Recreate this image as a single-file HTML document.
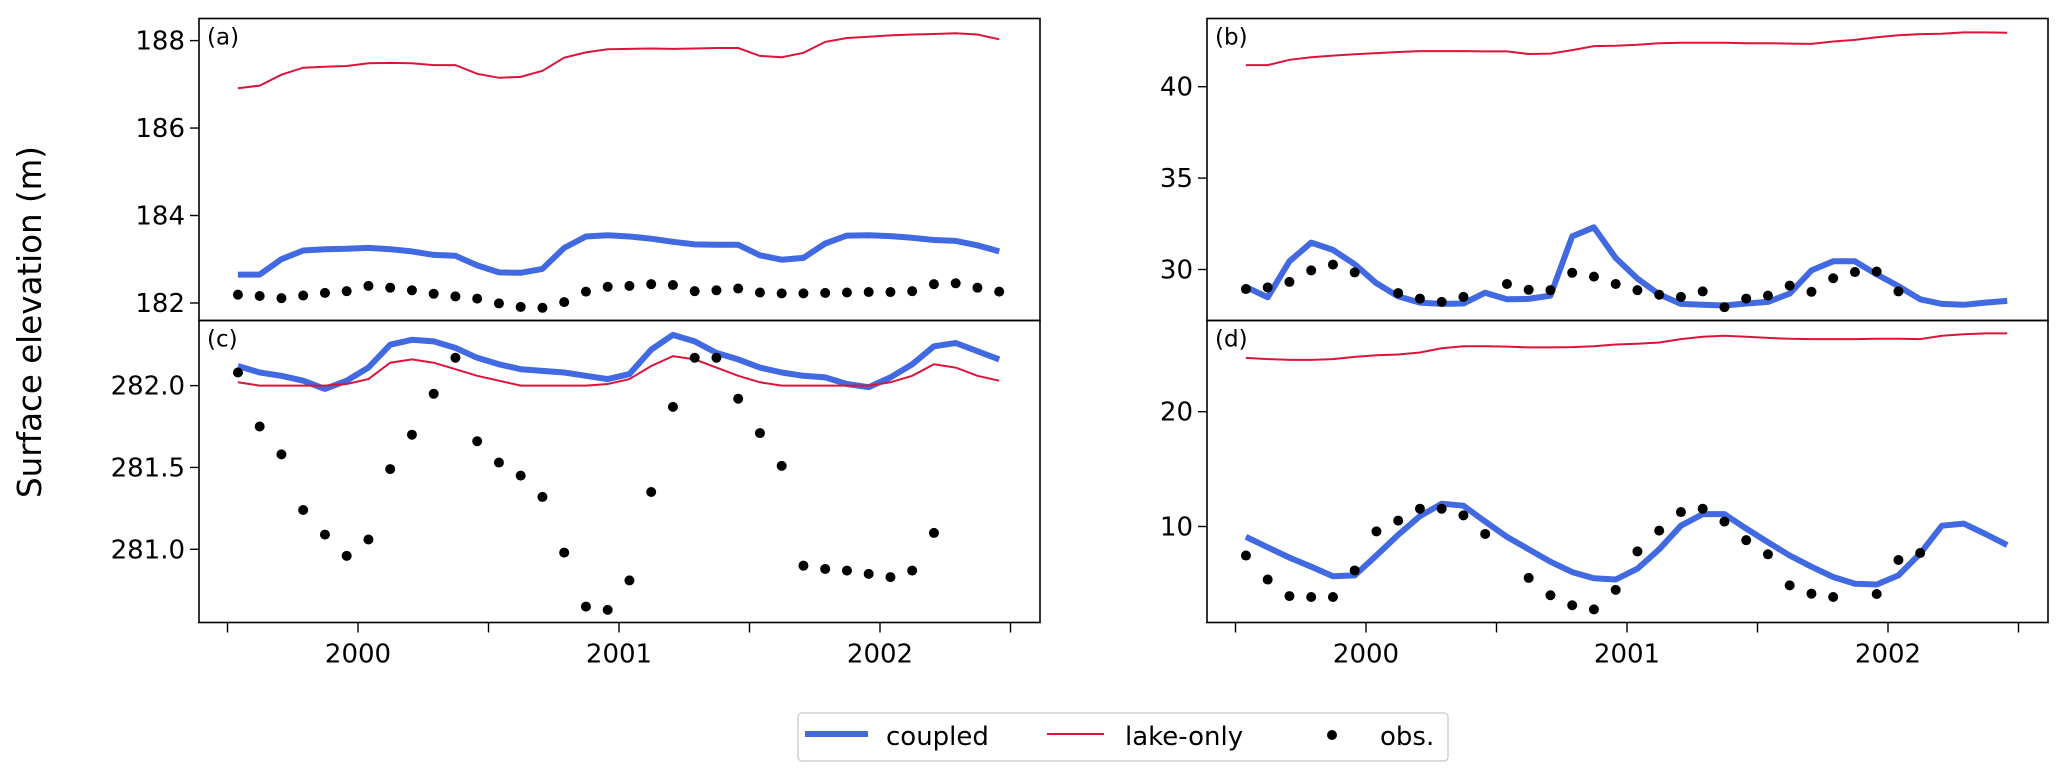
<!DOCTYPE html>
<html><head><meta charset="utf-8"><style>
body{margin:0;background:#fff;}
svg{display:block;font-family:"DejaVu Sans","Liberation Sans",sans-serif;}
</style></head><body>
<svg id="fig" width="2067" height="780" viewBox="0 0 2067 780"></svg>
<script>
const months = Array.from({length:36},(_,i)=>1999.54+i/12);
const yearTicks = [1999.5,2000,2000.5,2001,2001.5,2002,2002.5];
const yearLabels = ["","2000","","2001","","2002",""];

const aCoupled=[182.65,182.65,183.00,183.20,183.23,183.24,183.26,183.23,183.18,183.10,183.08,182.86,182.70,182.69,182.78,183.26,183.52,183.55,183.52,183.47,183.40,183.34,183.33,183.33,183.09,182.99,183.03,183.36,183.54,183.55,183.53,183.49,183.44,183.42,183.32,183.18];
const aLake=[186.91,186.97,187.22,187.38,187.40,187.42,187.48,187.49,187.48,187.44,187.44,187.24,187.15,187.17,187.31,187.61,187.73,187.80,187.81,187.82,187.81,187.82,187.83,187.83,187.65,187.62,187.72,187.97,188.06,188.09,188.12,188.14,188.15,188.17,188.14,188.03];
const aObs=[182.19,182.16,182.11,182.17,182.23,182.27,182.39,182.35,182.29,182.21,182.15,182.10,181.99,181.91,181.89,182.02,182.26,182.37,182.39,182.43,182.41,182.27,182.29,182.33,182.24,182.22,182.22,182.23,182.24,182.25,182.25,182.27,182.43,182.45,182.35,182.26];
const aTicks=[182,184,186,188];

const cCoupled=[282.12,282.08,282.06,282.03,281.98,282.03,282.11,282.25,282.28,282.27,282.23,282.17,282.13,282.10,282.09,282.08,282.06,282.04,282.07,282.22,282.31,282.27,282.20,282.16,282.11,282.08,282.06,282.05,282.01,281.99,282.05,282.13,282.24,282.26,282.21,282.16];
const cLake=[282.02,282,282,282,282,282.01,282.04,282.14,282.16,282.14,282.10,282.06,282.03,282,282,282,282,282.01,282.04,282.12,282.18,282.16,282.11,282.06,282.02,282,282,282,282,282,282.02,282.06,282.13,282.11,282.06,282.03];
const cObs=[282.08,281.75,281.58,281.24,281.09,280.96,281.06,281.49,281.70,281.95,282.17,281.66,281.53,281.45,281.32,280.98,280.65,280.63,280.81,281.35,281.87,282.17,282.17,281.92,281.71,281.51,280.90,280.88,280.87,280.85,280.83,280.87,281.10,null,null,null];
const cTicks=[281.0,281.5,282.0];
const cTickLabels=["281.0","281.5","282.0"];

const bCoupled=[29.05,28.48,30.45,31.47,31.07,30.29,29.25,28.53,28.19,28.12,28.14,28.73,28.37,28.39,28.57,31.81,32.31,30.63,29.50,28.64,28.12,28.07,28.03,28.14,28.23,28.68,29.95,30.45,30.45,29.73,29.09,28.37,28.12,28.07,28.19,28.28];
const bLake=[41.18,41.18,41.47,41.61,41.70,41.77,41.84,41.90,41.95,41.95,41.95,41.93,41.93,41.79,41.81,42.00,42.22,42.24,42.29,42.38,42.40,42.40,42.40,42.38,42.38,42.36,42.34,42.47,42.56,42.70,42.81,42.88,42.90,42.97,42.97,42.95];
const bObs=[28.93,29.02,29.32,29.95,30.27,29.84,null,28.71,28.41,28.23,28.50,null,29.21,28.89,28.87,29.82,29.61,29.21,28.87,28.62,28.50,28.80,27.94,28.41,28.57,29.12,28.78,29.52,29.86,29.89,28.80,null,null,null,null,null];
const bTicks=[30,35,40];

const dCoupled=[9.10,8.19,7.29,6.50,5.67,5.74,7.47,9.28,10.90,11.99,11.81,10.43,9.10,8.01,6.93,6.03,5.49,5.38,6.32,8.01,10.07,11.08,11.08,9.82,8.63,7.47,6.50,5.60,5.02,4.95,5.74,7.65,10.07,10.25,9.35,8.38];
const dLake=[24.69,24.58,24.51,24.51,24.58,24.77,24.91,24.98,25.16,25.52,25.70,25.70,25.67,25.60,25.60,25.63,25.70,25.85,25.92,26.03,26.32,26.53,26.61,26.53,26.43,26.35,26.32,26.32,26.32,26.35,26.35,26.32,26.61,26.75,26.82,26.82];
const dObs=[7.47,5.38,3.94,3.86,3.86,6.17,9.57,10.51,11.55,11.55,10.97,9.35,null,5.52,4.01,3.14,2.78,4.48,7.83,9.64,11.26,11.55,10.43,8.81,7.58,4.87,4.15,3.86,null,4.12,7.08,7.69,null,null,null,null];
const dTicks=[10,20];

const NS="http://www.w3.org/2000/svg";
const svg=document.getElementById('fig');
function mk(tag,attrs,parent){const e=document.createElementNS(NS,tag);for(const k in attrs)e.setAttribute(k,attrs[k]);(parent||svg).appendChild(e);return e;}

function panel(id,x0,x1,y0,y1,ymin,ymax,xyr,coupled,lake,obs,ticks,tickLabels,label,showX){
  const g=mk('g',{});
  
  
  const X=t=>xyr+(t-2000)*261;
  const Y=v=>y1-(v-ymin)/(ymax-ymin)*(y1-y0);
  const clip=mk('clipPath',{id:'clip'+id},g);
  mk('rect',{x:x0,y:y0,width:x1-x0,height:y1-y0},clip);
  const pts=arr=>arr.map((v,i)=>X(months[i]).toFixed(1)+','+Y(v).toFixed(1)).join(' ');
  const lb=mk('polyline',{points:pts(coupled),fill:'none',stroke:'#4169e1','stroke-width':6,'stroke-linejoin':'round','clip-path':'url(#clip'+id+')'},g);
  
  
  const lr=mk('polyline',{points:pts(lake),fill:'none',stroke:'#dc143c','stroke-width':2,'clip-path':'url(#clip'+id+')'},g);
  
  
  obs.forEach((v,i)=>{ if(v===null) return;
    const c=mk('circle',{cx:X(months[i]),cy:Y(v),r:5,fill:'#000'},g);
    
    
  });
  const fr=mk('rect',{x:x0,y:y0,width:x1-x0,height:y1-y0,fill:'none',stroke:'#000','stroke-width':1.6},g);
  
  
  ticks.forEach((v,i)=>{
    const y=Y(v);
    mk('line',{x1:x0-9,x2:x0,y1:y,y2:y,stroke:'#000','stroke-width':1.4},g);
    const t=mk('text',{x:x0-14,y:y+9,'text-anchor':'end','font-size':26},g);
    t.textContent=tickLabels?tickLabels[i]:String(v);
    
    
  });
  const pl=mk('text',{x:x0+8,y:y0+26,'font-size':23},g);
  pl.textContent=label;
  
  
  if(showX){
    yearTicks.forEach((t,i)=>{
      const x=X(t);
      mk('line',{x1:x,x2:x,y1:y1,y2:y1+10,stroke:'#000','stroke-width':1.4},g);
      if(yearLabels[i]){
        const tl=mk('text',{x:x,y:y1+40,'text-anchor':'middle','font-size':26},g);
        tl.textContent=yearLabels[i];
        
        
      }
    });
  }
}
panel('a',199,1040,18.5,320.5,188-(320.5-40.6)/43.73,188+(40.6-18.5)/43.73,358,aCoupled,aLake,aObs,aTicks,null,'(a)',false);
panel('c',199,1040,320.5,622.5,282-(622.5-385.6)/163.7,282+(385.6-320.5)/163.7,358,cCoupled,cLake,cObs,cTicks,cTickLabels,'(c)',true);
panel('b',1207,2048,18.5,320.5,40-(320.5-86.7)/18.28,40+(86.7-18.5)/18.28,1366,bCoupled,bLake,bObs,bTicks,null,'(b)',false);
panel('d',1207,2048,320.5,622.5,20-(622.5-411.7)/11.48,20+(411.7-320.5)/11.48,1366,dCoupled,dLake,dObs,dTicks,null,'(d)',true);
</script>
<svg style="position:absolute;left:0;top:0" width="2067" height="780">
  <text x="41" y="322" transform="rotate(-90 41 322)" text-anchor="middle" font-size="32.5" font-family="DejaVu Sans, sans-serif">Surface elevation (m)</text>
  <g>
    <rect x="798" y="713" width="650" height="48" rx="4" fill="#fff" stroke="#d0d0d0" stroke-width="1.5"/>
    <line x1="805" y1="734" x2="868" y2="734" stroke="#4169e1" stroke-width="6"/>
    <text x="886" y="745" font-size="26" font-family="DejaVu Sans, sans-serif">coupled</text>
    <line x1="1047" y1="734" x2="1104" y2="734" stroke="#dc143c" stroke-width="2"/>
    <text x="1125" y="745" font-size="26" font-family="DejaVu Sans, sans-serif">lake-only</text>
    <circle cx="1332" cy="735" r="5" fill="#000"/>
    <text x="1380" y="745" font-size="26" font-family="DejaVu Sans, sans-serif">obs.</text>
  </g>
</svg>
</body></html>
